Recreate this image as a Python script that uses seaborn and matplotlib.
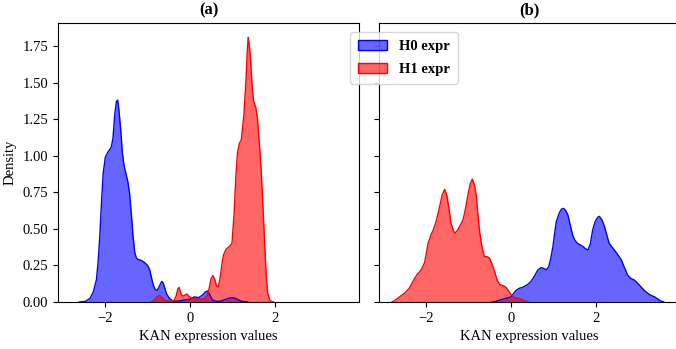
import numpy as np
import pandas as pd
import matplotlib
matplotlib.use("Agg")
import matplotlib.pyplot as plt
import seaborn as sns
from matplotlib.patches import Patch

plt.rcParams['font.family'] = ['Liberation Serif', 'DejaVu Serif']
plt.rcParams['axes.unicode_minus'] = True

# ---- data (density curves) ----
h0_a_x = [-2.60, -2.45, -2.35, -2.27, -2.20, -2.16, -2.12, -2.08, -2.04, -1.99, -1.94, -1.89,
          -1.85, -1.81, -1.77, -1.73, -1.70, -1.67, -1.63, -1.59, -1.55, -1.50, -1.46, -1.42,
          -1.38, -1.34, -1.30, -1.26, -1.22, -1.15, -1.07, -1.00, -0.95, -0.91, -0.87, -0.82,
          -0.77, -0.72, -0.67, -0.64, -0.60, -0.56, -0.50, -0.45, -0.38, -0.30, -0.20, -0.10,
          0.00, 0.10, 0.20, 0.30, 0.36, 0.41, 0.46, 0.52, 0.60, 0.70, 0.80, 0.90, 1.00, 1.10,
          1.20, 1.35]
h0_a_y = [0.0, 0.005, 0.025, 0.07, 0.15, 0.27, 0.45, 0.68, 0.88, 0.99, 1.02, 1.04,
          1.06, 1.12, 1.28, 1.37, 1.38, 1.31, 1.18, 1.02, 0.93, 0.87, 0.82, 0.74,
          0.60, 0.45, 0.34, 0.30, 0.29, 0.285, 0.27, 0.25, 0.22, 0.17, 0.12, 0.085,
          0.08, 0.11, 0.14, 0.135, 0.10, 0.06, 0.03, 0.015, 0.005, 0.005, 0.01, 0.015,
          0.02, 0.035, 0.03, 0.05, 0.07, 0.075, 0.05, 0.015, 0.005, 0.005, 0.015, 0.025, 0.03, 0.02,
          0.005, 0.0]

h1_a_x = [-0.92, -0.85, -0.78, -0.73, -0.66, -0.58, -0.48, -0.38, -0.33, -0.29, -0.26, -0.22,
          -0.18, -0.13, -0.08, -0.03, 0.05, 0.15, 0.25, 0.35, 0.41, 0.45, 0.49, 0.53, 0.57,
          0.62, 0.66, 0.70, 0.74, 0.78, 0.84, 0.92, 0.98, 1.03, 1.07, 1.11, 1.15, 1.20, 1.26,
          1.31, 1.34, 1.36, 1.39, 1.42, 1.46, 1.49, 1.54, 1.58, 1.62, 1.66, 1.70, 1.74, 1.78,
          1.82, 1.87, 1.95]
h1_a_y = [0.0, 0.01, 0.035, 0.045, 0.03, 0.01, 0.005, 0.01, 0.04, 0.09, 0.10, 0.06,
          0.04, 0.045, 0.055, 0.04, 0.025, 0.02, 0.02, 0.025, 0.05, 0.10, 0.16, 0.18, 0.16,
          0.11, 0.105, 0.16, 0.25, 0.32, 0.36, 0.38, 0.40, 0.60, 0.85, 1.02, 1.08, 1.11, 1.28,
          1.52, 1.72, 1.81, 1.75, 1.64, 1.45, 1.37, 1.33, 1.25, 1.10, 0.93, 0.70, 0.45, 0.20,
          0.06, 0.01, 0.0]

h0_b_x = [-0.45, -0.35, -0.25, -0.12, 0.00, 0.06, 0.12, 0.20, 0.27, 0.39, 0.46, 0.51, 0.57,
          0.63, 0.70, 0.76, 0.82, 0.88, 0.93, 0.98, 1.02, 1.06, 1.13, 1.18, 1.23, 1.28, 1.33,
          1.39, 1.45, 1.50, 1.56, 1.62, 1.68, 1.74, 1.80, 1.86, 1.91, 1.97, 2.03, 2.07, 2.13,
          2.19, 2.25, 2.30, 2.38, 2.46, 2.52, 2.58, 2.65, 2.73, 2.81, 2.89, 2.96, 3.04, 3.12,
          3.20, 3.28, 3.36, 3.44, 3.51, 3.58]
h0_b_y = [0.0, 0.005, 0.015, 0.025, 0.036, 0.06, 0.08, 0.095, 0.10, 0.12, 0.14, 0.16, 0.19,
          0.22, 0.235, 0.23, 0.22, 0.24, 0.30, 0.38, 0.47, 0.55, 0.61, 0.635, 0.64, 0.625, 0.595,
          0.52, 0.45, 0.42, 0.40, 0.39, 0.38, 0.365, 0.355, 0.40, 0.49, 0.55, 0.58, 0.585, 0.56,
          0.515, 0.45, 0.40, 0.37, 0.34, 0.315, 0.29, 0.24, 0.185, 0.16, 0.15, 0.13, 0.105, 0.08,
          0.06, 0.045, 0.036, 0.02, 0.007, 0.0]

h1_b_x = [-2.80, -2.73, -2.62, -2.50, -2.40, -2.34, -2.27, -2.20, -2.11, -2.03, -1.95, -1.88,
          -1.83, -1.76, -1.68, -1.62, -1.56, -1.51, -1.47, -1.41, -1.36, -1.32, -1.26, -1.21,
          -1.13, -1.07, -1.01, -0.96, -0.91, -0.86, -0.82, -0.78, -0.74, -0.68, -0.63, -0.57,
          -0.51, -0.45, -0.39, -0.33, -0.27, -0.18, -0.12, -0.06, 0.00, 0.08, 0.20, 0.30, 0.40]
h1_b_y = [0.0, 0.01, 0.035, 0.06, 0.09, 0.12, 0.16, 0.19, 0.22, 0.27, 0.40, 0.46,
          0.49, 0.55, 0.65, 0.73, 0.77, 0.73, 0.66, 0.54, 0.49, 0.47, 0.49, 0.515,
          0.56, 0.64, 0.74, 0.81, 0.84, 0.80, 0.73, 0.60, 0.48, 0.37, 0.31, 0.31,
          0.30, 0.26, 0.21, 0.15, 0.12, 0.11, 0.10, 0.075, 0.05, 0.03, 0.022, 0.01, 0.0]

panel_titles = ["(a)", "(b)"]
series_labels = ["H0 expr", "H1 expr"]
colors = ["blue", "red"]
x_label = "KAN expression values"
y_label = "Density"
y_ticks = [0.0, 0.25, 0.5, 0.75, 1.0, 1.25, 1.5, 1.75]
x_ticks = [-2, 0, 2]

W, H = 676, 349
fig = plt.figure(figsize=(W / 100, H / 100), dpi=100)
ax_a = fig.add_axes([58 / W, 47 / H, 301 / W, 279 / H])
ax_b = fig.add_axes([379 / W, 47 / H, 301 / W, 279 / H], sharex=ax_a, sharey=ax_a)

panels = [
    (ax_a, [(h0_a_x, h0_a_y), (h1_a_x, h1_a_y)]),
    (ax_b, [(h0_b_x, h0_b_y), (h1_b_x, h1_b_y)]),
]

fs = 10.5
for (ax, curves), title in zip(panels, panel_titles):
    for (xs, ys), c, lab in zip(curves, colors, series_labels):
        df = pd.DataFrame({"x": xs, "density": ys})
        ax.fill_between(df["x"], df["density"], 0, color=c, alpha=0.6, lw=0)
        sns.lineplot(data=df, x="x", y="density", ax=ax, color=c, lw=1.0,
                     sort=False, legend=False)
    ax.set_title(title, fontsize=12, fontweight="bold")
    ax.set_xlabel(x_label, fontsize=fs)
    ax.set_xticks(x_ticks)
    ax.tick_params(labelsize=fs)

ax_a.set_xlim(-3.1, 3.96)
ax_a.set_ylim(0, 1.907)
ax_a.set_yticks(y_ticks)
ax_a.set_ylabel(y_label, fontsize=fs)
ax_b.set_ylabel("")
ax_b.tick_params(labelleft=False)

handles = [Patch(facecolor=matplotlib.colors.to_rgba(c, 0.6), edgecolor=c, label=l)
           for c, l in zip(colors, series_labels)]
fig.legend(handles=handles, loc="upper left", bbox_to_anchor=(350 / W, 1 - 32 / H),
           prop={"weight": "bold", "size": 10.5}, borderaxespad=0, labelspacing=0.65,
           borderpad=0.55)

fig.savefig("out.png", dpi=100)
